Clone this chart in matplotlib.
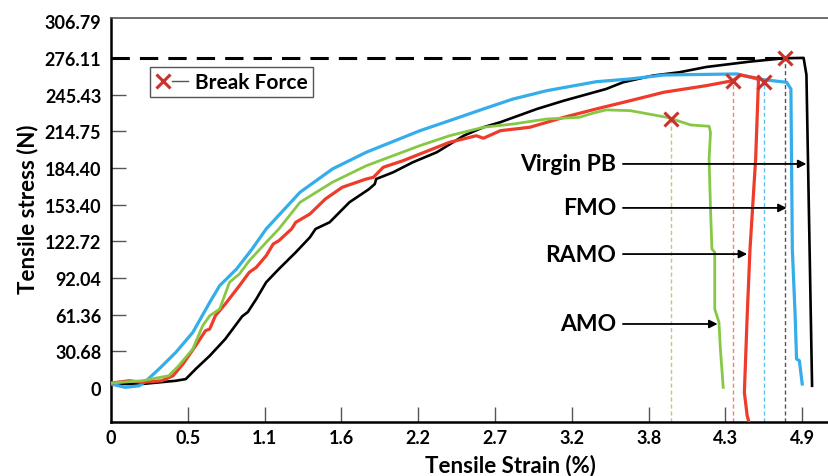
import numpy as np
import matplotlib.pyplot as plt
from matplotlib.lines import Line2D
from matplotlib.legend_handler import HandlerTuple

plt.rcParams['font.family'] = ['Lato', 'DejaVu Sans']
plt.rcParams['font.weight'] = 'bold'

# tensile strain (%) and stress (N)
virgin_x = [0, 0.22, 0.46, 0.53, 0.60, 0.70, 0.81, 0.93, 0.97, 1.03, 1.10, 1.19, 1.31, 1.41,
            1.45, 1.55, 1.69, 1.83, 1.87, 1.88, 2.00, 2.14, 2.31, 2.50, 2.64, 2.76, 3.02,
            3.21, 3.51, 3.63, 3.84, 4.03, 4.22, 4.53, 4.77, 4.91, 4.93, 4.97]
virgin_y = [3.3, 3.3, 6.0, 7.4, 15.8, 26.9, 40.9, 59.9, 63.5, 74.4, 88.4, 99.5, 113.5, 126.0,
            133.0, 138.6, 155.3, 166.4, 170.6, 174.8, 180.4, 188.8, 197.2, 211.0, 218.1, 222.3,
            233.4, 240.3, 250.1, 255.7, 261.3, 264.1, 268.5, 273.0, 275.8, 276.11, 262.0, 1.8]

fmo_x = [0, 0.10, 0.20, 0.25, 0.34, 0.46, 0.58, 0.70, 0.77, 0.89, 1.00, 1.10, 1.34, 1.57,
         1.81, 2.19, 2.40, 2.64, 2.85, 3.09, 3.44, 3.68, 3.92, 4.44, 4.58, 4.79, 4.82,
         4.83, 4.85, 4.86, 4.88, 4.90]
fmo_y = [3.3, 0.5, 1.8, 6.0, 15.8, 29.8, 46.5, 71.6, 85.5, 99.5, 116.2, 133.0, 163.7, 183.2,
         197.2, 215.2, 223.6, 233.4, 241.7, 248.7, 256.2, 258.5, 261.8, 262.7, 258.5, 255.7,
         250.1, 116.2, 60.4, 24.2, 22.8, 3.3]

ramo_x = [0, 0.13, 0.22, 0.36, 0.44, 0.51, 0.60, 0.67, 0.70, 0.74, 0.81, 0.91, 0.98, 1.03,
          1.10, 1.15, 1.19, 1.28, 1.31, 1.41, 1.52, 1.64, 1.81, 1.86, 1.93, 2.07, 2.19, 2.40,
          2.59, 2.64, 2.76, 2.97, 3.21, 3.44, 3.68, 3.92, 4.22, 4.41, 4.46, 4.58, 4.59, 4.57,
          4.53, 4.51, 4.49, 4.51, 4.53]
ramo_y = [4.1, 6.0, 4.7, 6.0, 10.2, 20.0, 35.3, 47.9, 49.3, 60.4, 70.2, 85.5, 96.7, 100.9,
          110.6, 120.4, 123.2, 133.0, 138.6, 145.5, 158.1, 167.9, 174.8, 176.2, 184.6, 190.1,
          195.7, 205.5, 211.0, 208.9, 215.2, 218.1, 226.4, 233.4, 240.3, 247.4, 252.9, 257.1,
          261.8, 259.1, 257.1, 191.5, 116.2, 60.4, -3.7, -23.3, -32.0]

amo_x = [0, 0.22, 0.41, 0.48, 0.58, 0.65, 0.70, 0.77, 0.84, 0.91, 0.98, 1.10, 1.19, 1.34,
         1.57, 1.81, 2.19, 2.40, 2.64, 2.85, 3.09, 3.32, 3.42, 3.51, 3.68, 3.94, 4.11, 4.24,
         4.25, 4.24, 4.25, 4.26, 4.28, 4.28, 4.31, 4.32, 4.34]
amo_y = [4.1, 6.0, 10.2, 18.6, 32.6, 52.1, 60.4, 66.0, 88.4, 95.3, 106.4, 121.8, 133.0, 155.3,
         172.1, 185.9, 202.7, 211.0, 218.1, 220.8, 225.0, 226.4, 230.0, 232.6, 232.0, 226.4,
         220.0, 218.9, 213.9, 191.5, 149.7, 116.2, 113.5, 66.0, 54.9, 32.6, 0.5]

# break force points: Virgin PB, FMO, RAMO, AMO
break_x = [4.78, 4.63, 4.41, 3.97]
break_y = [276.11, 255.7, 257.1, 225.0]

labels = ['Virgin PB', 'FMO', 'RAMO', 'AMO']
arrow_y = [187.4, 150.6, 112.0, 53.5]
arrow_x = [4.93, 4.79, 4.51, 4.30]

ytick_vals = [0, 30.68, 61.36, 92.04, 122.72, 153.40, 184.40, 214.75, 245.43, 276.11, 306.79]
xtick_labels = ['0', '0.5', '1.1', '1.6', '2.2', '2.7', '3.2', '3.8', '4.3', '4.9']

colors = ['black', '#35ADEB', '#EE3B2A', '#86C846']
guide_colors = ['#555555', '#5BC3F2', '#F2837A', '#A6D67A']
mark_color = '#C8322D'

fig = plt.figure(figsize=(8.29, 4.77), dpi=100)
ax = fig.add_axes([0.1339, 0.1132, 0.8661, 0.847])
ymin, ymax = -28.5, 309.5

ax.plot(virgin_x, virgin_y, color=colors[0], lw=1.9, zorder=3)
ax.plot(fmo_x, fmo_y, color=colors[1], lw=2.3, zorder=3)
ax.plot(ramo_x, ramo_y, color=colors[2], lw=2.3, zorder=3)
ax.plot(amo_x, amo_y, color=colors[3], lw=2.0, zorder=3)

# peak dashed line
ax.plot([0, break_x[0]], [break_y[0], break_y[0]], color='black', lw=2.2,
        linestyle='--', dashes=(6, 3.3), zorder=2)

for bx, by, gc in zip(break_x, break_y, guide_colors):
    ax.plot([bx, bx], [ymin, by], color=gc, lw=1.0, linestyle='--', dashes=(3, 2), zorder=2)
ax.plot(break_x, break_y, linestyle='none', marker='x', ms=10, mew=2.2,
        color=mark_color, zorder=4)

for lab, ay, axx in zip(labels, arrow_y, arrow_x):
    ax.annotate(lab, xy=(axx, ay), xytext=(3.58, ay), ha='right', va='center',
                fontsize=16.5, fontweight='bold',
                arrowprops=dict(arrowstyle='-|>', color='black', lw=1.3,
                                mutation_scale=12, shrinkA=3, shrinkB=0))

ax.set_xlim(0, 5.09)
ax.set_ylim(ymin, ymax)
ax.set_xticks(np.linspace(0, 4.9, 10))
ax.set_xticklabels(xtick_labels)
ax.set_yticks(ytick_vals)
ax.set_yticklabels(['%g' % v if v == 0 else '%.2f' % v for v in ytick_vals])
ax.tick_params(axis='both', direction='in', length=11, width=1, color='#555555',
               labelsize=13)
ax.tick_params(axis='y', pad=7)
ax.tick_params(axis='x', pad=5)
for i in [0, len(ytick_vals) - 1]:
    ax.yaxis.get_major_ticks()[i].tick1line.set_visible(False)
ax.xaxis.get_major_ticks()[0].tick1line.set_visible(False)

ax.spines['right'].set_visible(False)
ax.spines['top'].set_color('#555555')
ax.spines['top'].set_linewidth(1.2)
ax.spines['left'].set_linewidth(1.8)
ax.spines['bottom'].set_linewidth(1.8)

ax.set_xlabel('Tensile Strain (%)', fontsize=16, fontweight='bold')
ax.set_ylabel('Tensile stress (N)', fontsize=16, fontweight='bold')
ax.xaxis.set_label_coords(0.556, -0.079)
ax.yaxis.set_label_coords(-0.101, 0.53)

mk = Line2D([], [], linestyle='none', marker='x', ms=10, mew=2.2, color=mark_color)
ln = Line2D([], [], color='#555555', lw=1)
leg = ax.legend([(mk, ln)], ['Break Force'], handler_map={tuple: HandlerTuple(ndivide=None, pad=0)},
                loc='upper left', bbox_to_anchor=(0.054, 0.879), borderaxespad=0,
                fancybox=False, edgecolor='#555555', framealpha=1, fontsize=15,
                handlelength=1.6, handletextpad=0.3, borderpad=0.25)
leg.get_frame().set_linewidth(1.0)

fig.savefig('out.png', dpi=100)
